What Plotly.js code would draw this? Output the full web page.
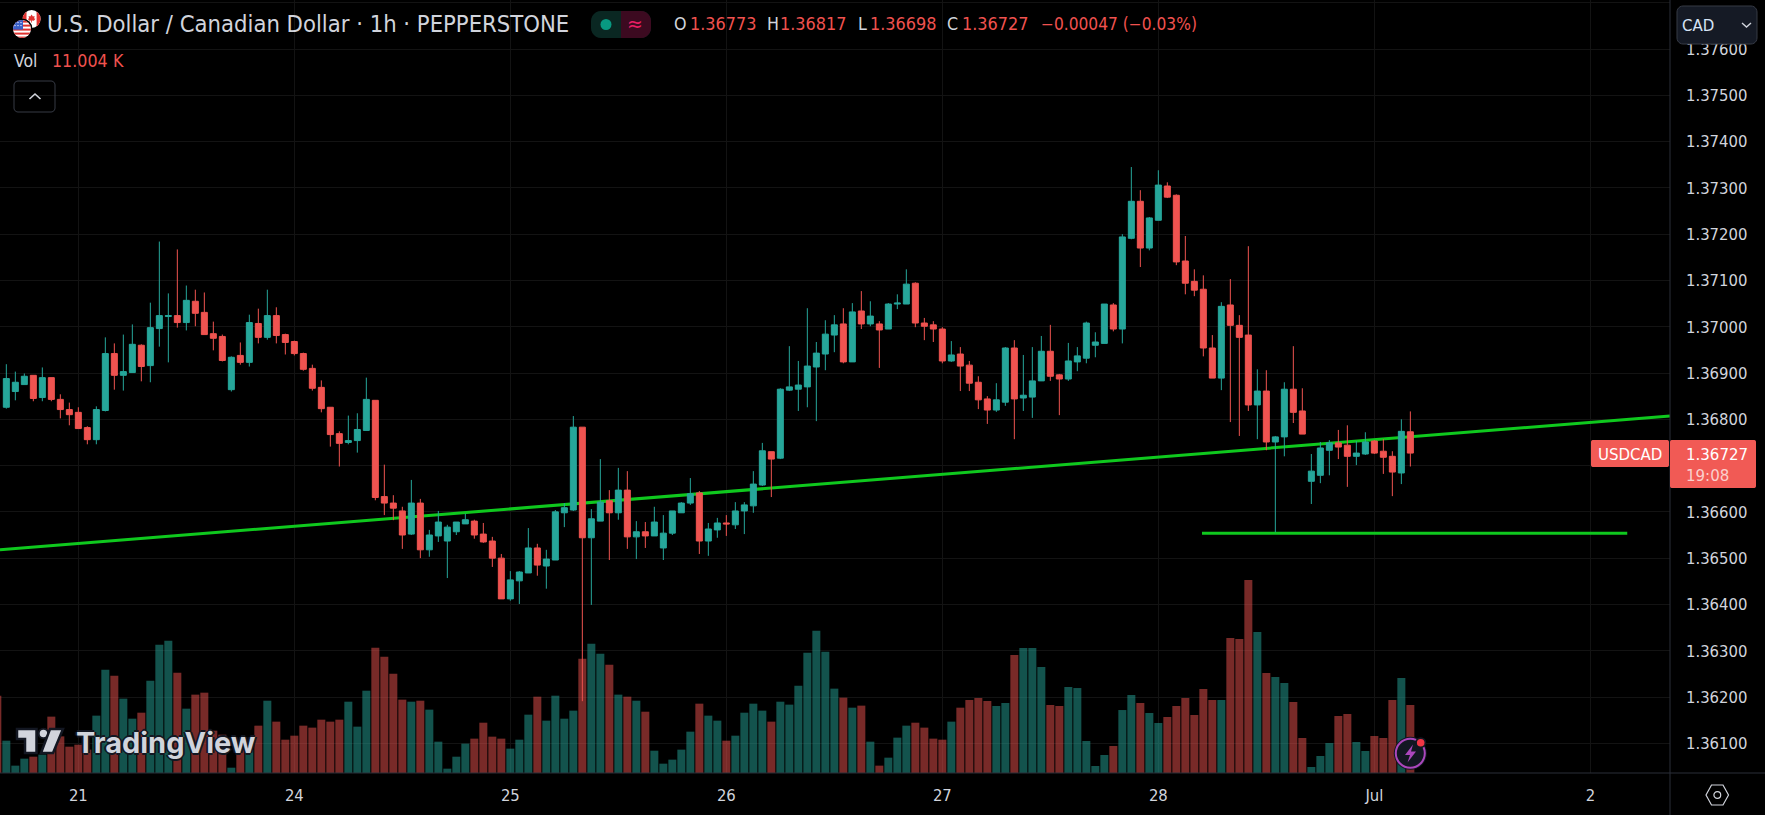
<!DOCTYPE html>
<html><head><meta charset="utf-8">
<script src="https://cdn.plot.ly/plotly-3.0.1.min.js"></script>
<style>html,body{margin:0;padding:0;background:#000;overflow:hidden}#c{width:1765px;height:815px}</style>
</head><body><div id="c"></div>
<script>
// Prices in units of 0.00001
const open5=[136826,136860,136875,136895,136847,136890,136843,136821,136815,136782,136756,136819,136942,136895,136901,136960,136916,136996,137022,137024,137009,137055,137031,136985,136979,136864,136938,136923,137007,136977,137024,136983,136968,136942,136910,136869,136826,136769,136750,136754,136776,136841,136633,136619,136602,136552,136619,136518,136548,136537,136557,136574,136580,136552,136537,136500,136412,136451,136468,136522,136483,136496,136598,136604,136783,136544,136580,136624,136598,136647,136546,136557,136548,136522,136554,136598,136619,136641,136537,136561,136576,136572,136602,136613,136658,136730,136716,136863,136865,136870,136913,136941,136982,137006,136924,137034,137006,137006,136995,137049,137049,137094,137008,137004,136995,136926,136941,136917,136880,136844,136820,136837,136954,136846,136848,136883,136947,136896,136887,136924,136932,136960,136964,137047,136995,137191,137271,137170,137230,137304,137284,137142,137098,137081,136954,136889,137047,137003,136982,136831,136861,136751,136762,136865,136818,136666,136679,136733,136749,136744,136720,136725,136753,136731,136720,136684,136773];
const high5=[136919,136903,136899,136895,136912,136890,136854,136836,136826,136785,136828,136977,136964,136983,137005,136962,137052,137184,137072,137167,137089,137080,137074,137011,136983,136936,136966,137026,137039,137080,137042,136985,136970,136944,136918,136884,136826,136774,136808,136813,136890,136841,136702,136636,136611,136669,136628,136561,136602,136572,136578,136596,136583,136576,136546,136509,136472,136472,136565,136531,136518,136604,136619,136807,136783,136606,136714,136647,136695,136688,136580,136578,136611,136593,136602,136621,136673,136645,136576,136587,136593,136621,136621,136688,136749,136730,136867,136958,136926,137040,136967,137014,137025,137040,137051,137077,137055,137012,137051,137070,137124,137096,137019,137012,136999,136969,136956,136926,136893,136850,136878,136956,136971,136939,136956,136980,137004,136898,136965,136956,137011,136988,137049,137051,137200,137345,137295,137237,137338,137312,137286,137196,137124,137111,136982,137053,137103,137025,137174,136908,136906,136764,136880,136958,136867,136725,136751,136755,136777,136787,136753,136772,136755,136757,136731,136800,136817];
const low5=[136823,136841,136875,136839,136839,136839,136802,136787,136780,136746,136746,136817,136864,136862,136901,136882,136880,136957,136923,136998,136992,137001,136983,136949,136925,136860,136918,136914,136964,136972,136964,136940,136938,136905,136862,136815,136741,136698,136746,136728,136776,136625,136593,136582,136520,136550,136500,136503,136535,136457,136550,136574,136542,136533,136481,136412,136408,136401,136468,136462,136434,136496,136567,136602,136191,136399,136580,136496,136583,136520,136498,136522,136548,136496,136550,136598,136615,136509,136505,136544,136548,136563,136552,136598,136656,136632,136714,136861,136818,136826,136796,136906,136945,136921,136924,136995,137001,136911,136995,137038,137049,136999,136971,136967,136921,136924,136861,136861,136822,136790,136816,136829,136757,136818,136803,136883,136883,136809,136883,136904,136921,136934,136964,136990,136964,137189,137129,137165,137230,137278,137133,137070,137066,136936,136889,136863,136794,136764,136818,136757,136733,136556,136720,136792,136768,136617,136662,136679,136714,136654,136701,136723,136725,136682,136634,136660,136698];
const close5=[136888,136880,136893,136845,136890,136843,136821,136810,136780,136756,136821,136942,136895,136903,136962,136914,136998,137024,137024,137009,137057,137029,136983,136975,136927,136934,136923,137009,136977,137024,136981,136966,136942,136908,136867,136823,136767,136748,136754,136778,136843,136631,136619,136608,136550,136619,136518,136550,136578,136567,136578,136583,136550,136535,136500,136412,136453,136470,136522,136485,136498,136600,136609,136783,136544,136585,136621,136598,136647,136546,136557,136548,136578,136554,136602,136619,136639,136537,136563,136576,136574,136602,136615,136660,136732,136714,136865,136870,136874,136915,136943,136984,137004,136924,137032,137006,137023,136993,137049,137051,137092,137008,137001,136995,136926,136939,136915,136878,136842,136820,136842,136954,136844,136852,136883,136947,136893,136887,136926,136937,137008,136967,137049,136995,137194,137271,137170,137235,137306,137280,137140,137094,137079,136954,136889,137044,137003,136977,136831,136861,136751,136762,136865,136815,136768,136688,136738,136749,136740,136720,136727,136751,136727,136718,136686,136774,136727];
// Volume in thousands; first value belongs to the bar cut off at the left edge
const volumeK=[12.5,5.23,1.19,2.32,2.64,2.97,9.12,5.93,4.26,4.58,3.78,9.28,16.72,15.75,12.03,8.79,9.76,14.94,20.77,21.41,16.24,10.41,12.68,13.0,6.85,6.2,0.86,3.78,3.78,7.66,11.7,8.31,5.39,6.04,7.66,7.34,8.63,8.31,8.63,11.54,7.5,13.32,20.28,18.82,16.07,11.87,11.54,11.7,10.25,5.07,0.7,2.64,4.75,5.56,8.14,5.88,5.56,3.94,5.39,9.44,12.35,8.47,12.51,8.79,10.09,18.5,20.93,19.31,17.53,12.68,12.35,11.7,9.92,3.61,1.51,2.16,3.78,6.69,11.22,9.28,8.47,5.23,6.04,9.76,11.22,10.09,8.31,11.54,11.06,14.13,19.47,23.03,19.63,13.65,12.19,10.57,10.9,5.07,1.19,2.48,5.72,7.66,8.14,7.34,5.56,5.39,8.31,10.57,11.81,12.14,11.65,10.84,11.33,19.09,20.23,20.23,17.15,11.0,10.84,13.92,13.75,5.18,1.13,2.91,4.37,10.19,12.62,11.33,9.71,8.09,9.06,10.84,12.14,9.39,13.59,11.81,11.81,21.85,21.68,31.23,22.82,16.18,15.53,14.56,11.49,5.66,0.97,2.75,4.85,9.22,9.55,5.02,3.56,5.99,5.66,11.81,15.37,11.004];
const dayTicks=[8,32,56,80,104,128,152,176];
const dayLabels=['21','24','25','26','27','28','Jul','2'];
const priceTicks=[1.361,1.362,1.363,1.364,1.365,1.366,1.367,1.368,1.369,1.370,1.371,1.372,1.373,1.374,1.375,1.376,1.377];
const hiddenPriceLabels=[1.367,1.377];
const trendX=[-0.703,184.85];
const trendY=[1.36518,1.36807];
const supportX=[132.85,180.1];
const supportY=[1.36554,1.36554];

const W=1765,H=815,PW=1670,PH=773;
const X=p=>p/PW, Y=p=>1-p/PH;
const UP='#26a69a',DOWN='#ef5350',TXT='#d1d4dc',RED='#f0524f',LINE='#0fc81e',EDGE='#2a2e39',GRID='#131313';
const FONT='"DejaVu Sans Condensed","DejaVu Sans",sans-serif';
const xs=open5.map((_,i)=>i), p=v=>v/1e5;
const pRange=[1.360358,1.377059];

const traces=[
 {type:'bar',x:volumeK.map((_,i)=>i-1),y:volumeK,yaxis:'y',hoverinfo:'skip',
  marker:{color:volumeK.map((_,i)=>i===0?DOWN:(close5[i-1]>=open5[i-1]?UP:DOWN)),opacity:0.5,line:{width:0}},showlegend:false},
 {type:'scatter',mode:'lines',x:trendX,y:trendY,yaxis:'y2',line:{color:LINE,width:3},hoverinfo:'skip',showlegend:false},
 {type:'scatter',mode:'lines',x:supportX,y:supportY,yaxis:'y2',line:{color:LINE,width:3},hoverinfo:'skip',showlegend:false},
 {type:'candlestick',x:xs,open:open5.map(p),high:high5.map(p),low:low5.map(p),close:close5.map(p),yaxis:'y3',whiskerwidth:0,hoverinfo:'skip',showlegend:false,
  increasing:{line:{color:UP,width:1},fillcolor:UP},decreasing:{line:{color:DOWN,width:1},fillcolor:DOWN}}
];

const ann=(x,y,text,size,color,extra)=>Object.assign({xref:'paper',yref:'paper',x:X(x),y:Y(y),text,showarrow:false,xanchor:'left',yanchor:'middle',borderpad:0,
  font:{family:FONT,size,color}},extra||{});
const rect=(x0,y0,x1,y1,fill,line,lw)=>({type:'rect',xref:'paper',yref:'paper',x0:X(x0),x1:X(x1),y0:Y(y0),y1:Y(y1),fillcolor:fill,line:{color:line||fill,width:line?(lw||1):0},layer:'above'});
const circ=(cx,cy,r,fill,line,lw)=>({type:'circle',xref:'paper',yref:'paper',x0:X(cx-r),x1:X(cx+r),y0:Y(cy-r),y1:Y(cy+r),fillcolor:fill,line:{color:line||fill,width:line?(lw||1):0},layer:'above'});
const poly=(pts,fill,line,lw,closed)=>({type:'path',xref:'paper',yref:'paper',path:pts.map((q,i)=>(i?'L':'M')+X(q[0])+','+Y(q[1])).join(' ')+(closed===false?'':' Z'),fillcolor:fill||'rgba(0,0,0,0)',line:{color:line||'rgba(0,0,0,0)',width:line?(lw||1):0},layer:'above'});
const round=(x0,y0,x1,y1,r,fill,line,lw)=>{const pts=[],arc=(cx,cy,a0)=>{for(let k=0;k<=6;k++){const a=a0+k*Math.PI/12;pts.push([cx+r*Math.cos(a),cy+r*Math.sin(a)]);}};
  arc(x1-r,y1-r,0);arc(x0+r,y1-r,Math.PI/2);arc(x0+r,y0+r,Math.PI);arc(x1-r,y0+r,Math.PI*1.5);return poly(pts,fill,line,lw);};

const flagSvg=`<svg xmlns="http://www.w3.org/2000/svg" width="30" height="34" viewBox="0 0 30 34"><defs><clipPath id="a"><circle cx="19.6" cy="10.5" r="9"/></clipPath><clipPath id="b"><circle cx="10" cy="22.4" r="9"/></clipPath></defs><g clip-path="url(#a)"><rect x="10" y="1" width="20" height="20" fill="#fff"/><rect x="10" y="1" width="4.5" height="20" fill="#e0322f"/><rect x="24.6" y="1" width="5" height="20" fill="#e0322f"/><path d="M19.6 6l1.3 2 1.7-.6-.5 2.6 1.4.2-1.6 2-1.9-.3v2h-.8v-2l-1.9.3-1.6-2 1.4-.2-.5-2.6 1.7.6z" fill="#e0322f"/></g><g transform="translate(0,-1.9)"><circle cx="10" cy="22.4" r="10.5" fill="#000"/><g clip-path="url(#b)"><rect x="0" y="13" width="20" height="19" fill="#fff"/><rect x="0" y="14" width="20" height="2" fill="#e0322f"/><rect x="0" y="18" width="20" height="2" fill="#e0322f"/><rect x="0" y="22" width="20" height="2" fill="#e0322f"/><rect x="0" y="26" width="20" height="2" fill="#e0322f"/><rect x="0" y="30" width="20" height="2" fill="#e0322f"/><rect x="0" y="13" width="11" height="10" fill="#3a5fc8"/><g fill="#fff"><circle cx="3" cy="16" r=".7"/><circle cx="6" cy="16" r=".7"/><circle cx="9" cy="16" r=".7"/><circle cx="3" cy="19" r=".7"/><circle cx="6" cy="19" r=".7"/><circle cx="9" cy="19" r=".7"/></g></g></g></svg>`;

const BTN_EDGE='#363a45';
const HY=24;
const layout={
 width:W,height:H,paper_bgcolor:'#000',plot_bgcolor:'#000',showlegend:false,dragmode:false,hovermode:false,
 margin:{l:0,r:W-PW,t:0,b:H-PH,pad:0},barmode:'overlay',bargap:1/9,boxgap:1/3,boxgroupgap:0,
 font:{family:FONT,color:TXT,size:16.5},
 xaxis:{type:'linear',range:[-0.703,184.85],tickmode:'array',tickvals:dayTicks,ticktext:dayLabels,showgrid:true,gridcolor:GRID,gridwidth:1,zeroline:false,
   showline:false,ticks:'',tickfont:{family:FONT,size:16.5,color:TXT},ticklabelstandoff:10,rangeslider:{visible:false},fixedrange:true},
 yaxis:{range:[0,125.09],visible:false,showgrid:false,zeroline:false,fixedrange:true},
 yaxis2:{overlaying:'y',side:'right',range:pRange,tickmode:'array',tickvals:priceTicks,
   ticktext:priceTicks.map(v=>hiddenPriceLabels.includes(v)?' ':v.toFixed(5)),showgrid:true,gridcolor:GRID,gridwidth:1,zeroline:false,showline:false,ticks:'',
   tickfont:{family:FONT,size:16.5,color:TXT},ticklabelstandoff:15,fixedrange:true},
 yaxis3:{overlaying:'y',side:'right',range:pRange,visible:false,showgrid:false,zeroline:false,fixedrange:true},
 images:[{source:'data:image/svg+xml;utf8,'+encodeURIComponent(flagSvg),xref:'paper',yref:'paper',x:X(12),y:Y(8.5),sizex:30/PW,sizey:34/PH,xanchor:'left',yanchor:'top',sizing:'stretch',layer:'above'}],
 shapes:[
  poly([[0,PH],[W,PH]],null,EDGE,1,false),
  poly([[PW,0],[PW,H]],null,EDGE,1,false),
  round(591,11,651,38,10,'#0a2722'),
  round(621,11,651,38,10,'#3c0a20'),
  rect(621,11,632,38,'#3c0a20'),
  circ(606,24.5,5.5,'#089981'),
  round(14,81,55,112,4,'rgba(0,0,0,0)',BTN_EDGE,1),
  poly([[29.5,99],[35,94],[40.5,99]],null,TXT,1.6,false),
  round(1677,6,1757,44,6,'#151a25',BTN_EDGE,1),
  poly([[1742,23],[1746.5,27],[1751,23]],null,TXT,1.4,false),
  round(1591,440,1669,467,2,'#f15a55'),
  round(1670,440,1756,488,2,'#f15a55'),
  poly([[1706,795],[1711.5,785],[1723,785],[1728.5,795],[1723,805],[1711.5,805]],null,TXT,1.2),
  circ(1717.3,795,3.4,'rgba(0,0,0,0)',TXT,1.2),
  poly([[17,729],[36.5,729],[36.5,753],[25,753],[25,739],[17,739]],TXT,'#131722',2.5),
  circ(43.5,733.5,4.8,TXT,'#131722',2),
  poly([[50,729],[63,729],[53,753],[41,753]],TXT,'#131722',2.5),
  circ(1410.3,753.3,16.5,'#131722'),
  circ(1410.3,753.3,14.5,'#131722','#ab47bc',2),
  poly([[1413,744.5],[1405,755],[1410,755],[1407.5,762.5],[1416,751.5],[1411,751.5]],'#ab47bc'),
  circ(1420.7,742.7,5.5,'#131722'),
  circ(1420.7,742.7,3.8,'#f23645')
 ],
 annotations:[
  ann(46,HY,'U.S. Dollar / Canadian Dollar · 1h · PEPPERSTONE',23.6,TXT),
  ann(626,HY,'≈',21,'#e91e63'),
  ann(673,HY,'O',17.7,TXT), ann(689,HY,'1.36773',17.9,RED),
  ann(766,HY,'H',17.7,TXT), ann(779,HY,'1.36817',17.9,RED),
  ann(857,HY,'L',17.7,TXT), ann(869,HY,'1.36698',17.9,RED),
  ann(946,HY,'C',17.7,TXT), ann(961,HY,'1.36727',17.9,RED),
  ann(1040,HY,'−0.00047 (−0.03%)',17.2,RED),
  ann(13,61,'Vol',17.5,TXT),
  ann(50.5,61,'11.004',17.7,RED),
  ann(111.5,61,'K',17.7,RED),
  ann(1681,25,'CAD',16.7,'#d6e4f5'),
  ann(1597,453.5,'USDCAD',16.7,'#fff'),
  ann(1685,454,'1.36727',16.7,'#fff'),
  ann(1685,475,'19:08',16.7,'#fbd0cd'),
  ann(75,742.5,'TradingView',29,TXT,{font:{family:'Inter,"DejaVu Sans",sans-serif',size:29,color:TXT,weight:700,shadow:'2px 0 0 #131722,-2px 0 0 #131722,0 2px 0 #131722,0 -2px 0 #131722'}})
 ]
};
Plotly.newPlot('c',traces,layout,{staticPlot:true,displayModeBar:false,responsive:false});
</script></body></html>
